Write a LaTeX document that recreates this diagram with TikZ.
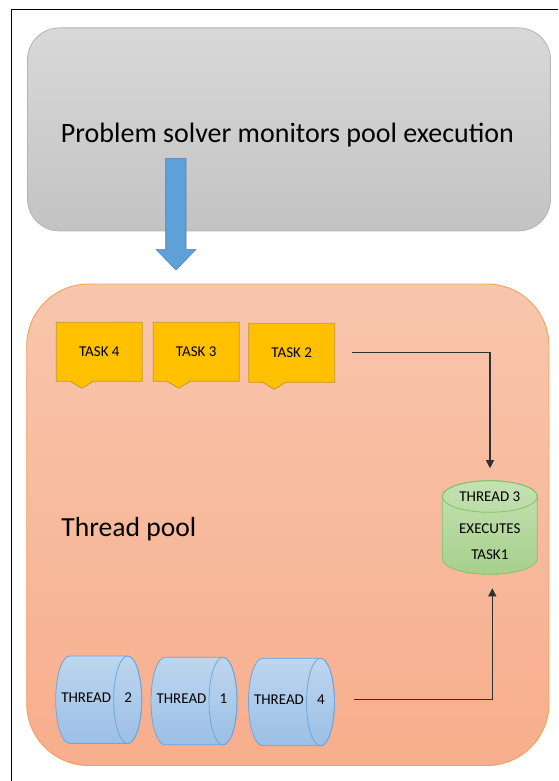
\documentclass[tikz,border=0pt]{standalone}
\usepackage{fontspec}
\setmainfont{Carlito}
\usetikzlibrary{arrows.meta,calc}
\definecolor{grayT}{HTML}{D8D8D8}
\definecolor{grayB}{HTML}{C3C3C3}
\definecolor{grayE}{HTML}{B4B4B4}
\definecolor{orT}{HTML}{F8C6AD}
\definecolor{orB}{HTML}{F7AE8C}
\definecolor{orE}{HTML}{F4A05A}
\definecolor{taskF}{HTML}{FFC000}
\definecolor{taskE}{HTML}{C49A2C}
\definecolor{blT}{HTML}{BED6EF}
\definecolor{blB}{HTML}{9BBFE6}
\definecolor{blE}{HTML}{6EA6DC}
\definecolor{grT}{HTML}{C6E1B3}
\definecolor{grB}{HTML}{A6D08B}
\definecolor{grE}{HTML}{84C26A}
\definecolor{arF}{HTML}{5FA0D8}
\definecolor{arE}{HTML}{4A86C0}
\definecolor{conn}{HTML}{303030}
\tikzset{
  graybox/.style={draw=grayE, line width=0.8pt, top color=grayT, bottom color=grayB, rounded corners=32pt},
  poolbox/.style={draw=orE, line width=0.9pt, top color=orT, bottom color=orB, rounded corners=62pt},
  taskshape/.style={draw=taskE, line width=0.8pt, fill=taskF},
  bluecyl/.style={draw=blE, line width=0.8pt, top color=blT, bottom color=blB},
  greencyl/.style={draw=grE, line width=0.8pt, top color=grT, bottom color=grB},
  blockarrow/.style={draw=arE, line width=0.6pt, fill=arF},
  smalltext/.style={inner sep=0pt, font=\fontsize{15}{18}\selectfont, text=black},
  bigtext/.style={inner sep=0pt, font=\fontsize{28}{34}\selectfont, text=black},
  connector/.style={draw=conn, line width=1.1pt, -{Triangle[width=8pt,length=8pt]}},
  framestyle/.style={draw=black, line width=1pt}
}
\newcommand\taskcallout[4]{% #1 name, #2 left, #3 top, #4 text
  \path[taskshape] (#2,#3) -- (#2+86,#3) -- (#2+86,#3+59) -- (#2+37,#3+59)
     -- (#2+25.5,#3+66) -- (#2+14,#3+59) -- (#2,#3+59) -- cycle;
  \node[smalltext, minimum width=86pt, minimum height=59pt] (#1) at (#2+43,#3+29.5) {#4};
}
\newcommand\threadcyl[4]{% #1 name, #2 left, #3 top, #4 number
  \path[bluecyl] (#2+14,#3) -- (#2+72,#3) arc (90:-90:14pt and 43.75pt)
     -- (#2+14,#3+87.5) arc (270:90:14pt and 43.75pt) -- cycle;
  \draw[draw=blE, line width=0.8pt] (#2+72,#3+43.75) ellipse [x radius=14pt, y radius=43.75pt];
  \node[smalltext] (#1) at (#2+30.5,#3+41.5) {THREAD};
  \node[smalltext] (#1num) at (#2+72.5,#3+41.5) {#4};
  \coordinate (#1east) at (#2+86,#3+41.5);
}
\begin{document}
\begin{tikzpicture}[x=1pt,y=-1pt]
\useasboundingbox (0,0) rectangle (558,781);
\fill[white] (0,0) rectangle (558,781);
% outer frame (left and top edges visible)
\draw[framestyle] (11.5,781) -- (11.5,9.5) -- (558,9.5);
% problem solver box
\node[graybox, minimum width=523pt, minimum height=203pt] (solver) at (289,129.4) {};
\node[bigtext, anchor=base] (title) at (287.4,142.7) {Problem solver monitors pool execution};
% pool box
\node[poolbox, minimum width=522.3pt, minimum height=481.5pt] (pool) at (287.85,524.75) {};
% block arrow
\path[blockarrow] (165.7,158.3) -- (186,158.3) -- (186,249.3) -- (196,249.3) -- (176,270)
   -- (156,249.3) -- (165.7,249.3) -- cycle;
% thread pool label
\node[inner sep=0pt, font=\fontsize{27.6}{33}\selectfont, anchor=base west] (poollabel) at (61.2,536) {Thread pool};
% tasks
\taskcallout{task4}{56.3}{322.3}{TASK 4}
\taskcallout{task3}{153.2}{322.3}{TASK 3}
\taskcallout{task2}{248.7}{323.3}{TASK 2}
% threads
\threadcyl{thrtwo}{55.7}{656}{2}
\threadcyl{throne}{151}{657.3}{1}
\threadcyl{thrfour}{248.5}{658.3}{4}
% green cylinder
\path[greencyl] (442.3,496.5) -- (442.3,558.5) arc (180:360:47.5pt and 15.8pt)
   -- (537.3,496.5) arc (0:180:47.5pt and 15.8pt) -- cycle;
\draw[draw=grE, line width=0.8pt] (489.8,496.5) ellipse [x radius=47.5pt, y radius=15.8pt];
\coordinate (thrthreetop) at (489.8,480.7);
\coordinate (thrthreebot) at (489.8,574.3);
\node[smalltext] (thrthree) at (489.8,496.7) {THREAD 3};
\node[smalltext] (executes) at (489.8,529) {EXECUTES};
\node[smalltext] (taskone) at (489.8,555) {TASK1};
% connectors
\draw[connector] ($(task2.east)+(17,0)$) -| ($(thrthreetop)+(0.2,-12.5)$);
\draw[connector] ($(thrfoureast)+(19,0)$) -| ($(thrthreebot)+(2.5,14)$);
\end{tikzpicture}
\end{document}
